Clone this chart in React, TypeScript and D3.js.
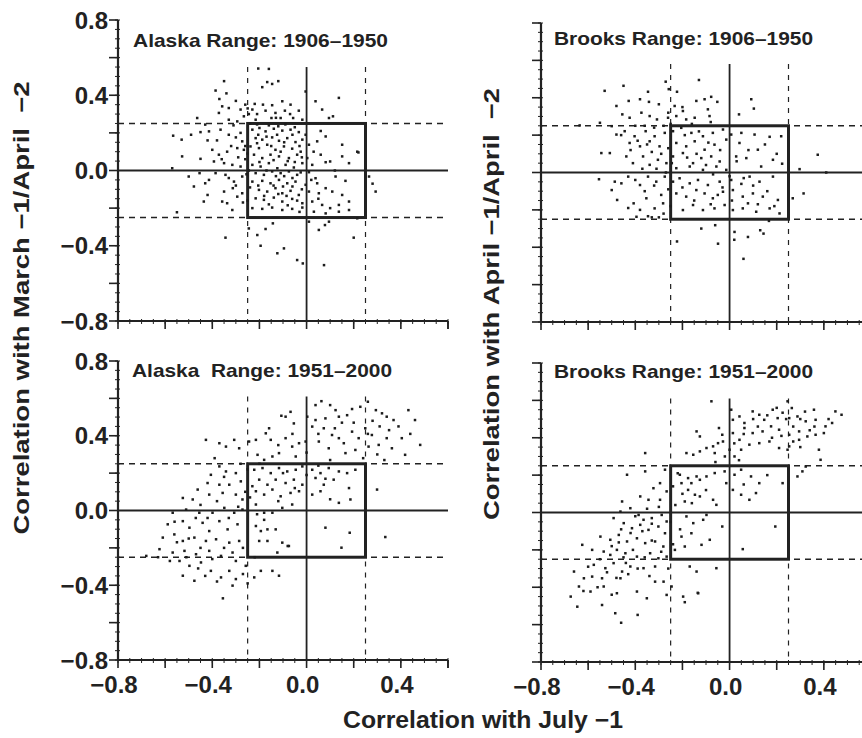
import * as d3 from 'd3';

// correlations: [July -1, spring] pairs
const alaskaEarly: [number, number][] = [
  [-0.205, 0.542], [-0.16, 0.54], [-0.35, 0.475], [-0.167, 0.47], [-0.146, 0.46], [-0.12, 0.475],
  [-0.386, 0.425], [-0.188, 0.443], [-0.004, 0.42], [-0.37, 0.38], [-0.34, 0.41], [-0.3, 0.37],
  [-0.26, 0.35], [-0.22, 0.354], [-0.185, 0.35], [-0.146, 0.347], [-0.103, 0.368], [-0.068, 0.35],
  [0.038, 0.368], [0.066, 0.324], [0.137, 0.386], [-0.358, 0.341], [-0.33, 0.332], [-0.28, 0.324],
  [-0.23, 0.324], [-0.174, 0.318], [-0.132, 0.306], [-0.092, 0.318], [-0.033, 0.318], [-0.372, 0.306],
  [-0.266, 0.288], [-0.245, 0.3], [-0.149, 0.279], [-0.11, 0.279], [-0.057, 0.279], [0.095, 0.279],
  [0.112, 0.288], [-0.464, 0.279], [-0.43, 0.244], [-0.33, 0.27], [-0.294, 0.261], [-0.216, 0.27],
  [-0.018, 0.27],
  [-0.566, 0.185], [-0.53, 0.164], [-0.49, 0.19], [-0.45, 0.204], [-0.414, 0.208], [-0.365, 0.217],
  [-0.33, 0.19], [-0.3, 0.176], [-0.273, 0.155], [-0.4, 0.11], [-0.372, 0.084], [-0.337, 0.1],
  [-0.294, 0.119], [-0.266, 0.11], [-0.528, 0.075], [-0.45, 0.062], [-0.393, 0.048], [-0.35, 0.039],
  [-0.315, 0.03], [-0.28, 0.021], [-0.57, 0.012], [-0.5, -0.032], [-0.454, -0.014], [-0.414, -0.05],
  [-0.386, -0.014], [-0.344, -0.023], [-0.308, -0.059], [-0.273, -0.032], [-0.478, -0.085], [-0.43, -0.068],
  [-0.35, -0.112], [-0.313, -0.094], [-0.42, -0.13], [-0.436, -0.165], [-0.358, -0.165], [-0.337, -0.174],
  [-0.294, -0.139], [-0.273, -0.121], [-0.55, -0.222], [-0.315, -0.21],
  [-0.23, 0.217], [-0.2, 0.226], [-0.174, 0.208], [-0.139, 0.222], [-0.103, 0.212], [-0.068, 0.217],
  [-0.033, 0.204], [-0.004, 0.19], [-0.216, 0.172], [-0.188, 0.164], [-0.146, 0.176], [-0.117, 0.158],
  [-0.082, 0.172], [-0.047, 0.151], [-0.018, 0.164], [-0.238, 0.128], [-0.202, 0.119], [-0.167, 0.137],
  [-0.132, 0.11], [-0.096, 0.128], [-0.061, 0.116], [-0.025, 0.1], [0.01, 0.137], [0.045, 0.155],
  [0.081, 0.181], [0.151, 0.137], [0.215, 0.1], [-0.223, 0.084], [-0.188, 0.066], [-0.153, 0.084],
  [-0.117, 0.075], [-0.075, 0.066], [-0.04, 0.084], [0.003, 0.066], [0.06, 0.084], [0.1, 0.048],
  [0.151, 0.075], [0.18, 0.039], [-0.23, 0.03], [-0.195, 0.021], [-0.16, 0.039], [-0.124, 0.012],
  [-0.089, 0.03], [-0.054, 0.016], [-0.018, 0.039], [0.024, 0.03], [0.081, 0.044], [-0.216, -0.014],
  [-0.181, -0.023], [-0.146, -0.005], [-0.11, -0.014], [-0.075, -0.005], [-0.04, -0.023], [0.01, -0.009],
  [0.038, -0.041], [0.123, -0.032], [0.165, -0.055], [-0.23, -0.059], [-0.188, -0.055], [-0.153, -0.068],
  [-0.117, -0.05], [-0.082, -0.068], [-0.047, -0.059], [-0.004, -0.076], [0.045, -0.068], [0.081, -0.094],
  [-0.202, -0.103], [-0.167, -0.112], [-0.132, -0.094], [-0.103, -0.121], [-0.068, -0.108], [-0.033, -0.13],
  [0.01, -0.112], [0.052, -0.121], [0.109, -0.112], [0.151, -0.13], [-0.216, -0.148], [-0.181, -0.156],
  [-0.139, -0.144], [-0.103, -0.165], [-0.061, -0.151], [-0.018, -0.174], [0.024, -0.165], [0.066, -0.183],
  [0.137, -0.183], [0.18, -0.165], [-0.23, -0.2], [-0.188, -0.204], [-0.146, -0.197], [-0.103, -0.21],
  [-0.061, -0.204], [-0.018, -0.197], [0.031, -0.219], [0.081, -0.228], [0.137, -0.219], [0.18, -0.21],
  [0.215, -0.254], [0.265, -0.032], [0.293, -0.112], [0.22, 0.096], [0.28, -0.07],
  [-0.344, -0.357], [-0.245, -0.308], [-0.209, -0.343], [-0.174, -0.311], [-0.143, -0.281], [-0.195, -0.4],
  [-0.124, -0.44], [-0.096, -0.414], [-0.04, -0.476], [-0.016, -0.494], [0.052, -0.316], [0.078, -0.29],
  [0.074, -0.503], [0.2, -0.357], [0.095, -0.272], [0.01, -0.272],
  [-0.24, 0.25], [-0.21, 0.245], [-0.16, 0.24], [-0.12, 0.235], [-0.09, 0.245], [-0.05, 0.23],
  [-0.26, 0.13], [-0.25, 0.09], [-0.26, 0.06], [-0.245, 0.0], [-0.255, -0.02], [-0.24, -0.09],
  [-0.25, -0.16], [-0.205, 0.19], [-0.17, 0.18], [-0.125, 0.19], [-0.095, 0.15], [-0.06, 0.19],
  [-0.03, 0.13], [-0.21, 0.145], [-0.15, 0.13], [-0.11, 0.1], [-0.08, 0.05], [-0.05, 0.045],
  [-0.02, 0.07], [-0.2, 0.045], [-0.14, 0.055], [-0.17, 0.0], [-0.13, -0.03], [-0.095, -0.03],
  [-0.06, -0.04], [-0.025, -0.01], [-0.205, -0.08], [-0.14, -0.08], [-0.1, -0.085], [-0.06, -0.085],
  [-0.02, -0.1], [-0.18, -0.135], [-0.12, -0.125], [-0.085, -0.135], [-0.04, -0.16], [-0.16, -0.18],
  [-0.08, -0.185], [-0.03, -0.22], [0.02, -0.05], [0.05, -0.15], [0.03, 0.1], [0.1, -0.2],
  [0.12, 0.0], [0.06, 0.21], [-0.31, 0.24], [-0.28, 0.2], [-0.32, 0.13], [-0.29, 0.07],
  [-0.36, 0.06], [-0.3, -0.08], [-0.33, -0.04], [-0.27, -0.17], [-0.38, 0.16], [-0.42, 0.16],
  [-0.21, 0.3], [-0.13, 0.28], [-0.07, 0.3], [-0.25, 0.33],
];

const brooksEarly: [number, number][] = [
  [-0.53, 0.437], [-0.45, 0.464], [-0.346, 0.432], [-0.271, 0.486], [-0.258, 0.446], [-0.223, 0.432],
  [-0.13, 0.495], [-0.48, 0.356], [-0.428, 0.383], [-0.38, 0.392], [-0.342, 0.378], [-0.3, 0.365],
  [-0.233, 0.356], [-0.198, 0.329], [-0.141, 0.383], [-0.106, 0.392], [-0.078, 0.405], [-0.052, 0.378],
  [-0.092, 0.338], [-0.085, 0.302], [0.092, 0.392], [0.103, 0.342], [0.04, 0.311], [-0.455, 0.311],
  [-0.424, 0.293], [-0.374, 0.32], [-0.339, 0.302], [-0.308, 0.284], [-0.261, 0.293], [-0.226, 0.302],
  [-0.184, 0.284], [-0.148, 0.293], [-0.55, 0.266], [-0.636, 0.252], [-0.5, 0.248],
  [-0.544, 0.104], [-0.508, 0.104], [-0.48, 0.203], [-0.445, 0.221], [-0.424, 0.158], [-0.403, 0.194],
  [-0.38, 0.14], [-0.356, 0.221], [-0.339, 0.167], [-0.318, 0.194], [-0.297, 0.14], [-0.275, 0.212],
  [-0.438, 0.086], [-0.41, 0.05], [-0.367, 0.086], [-0.339, 0.041], [-0.304, 0.068], [-0.268, 0.05],
  [-0.554, -0.036], [-0.487, -0.049], [-0.459, -0.058], [-0.43, -0.022], [-0.38, -0.067], [-0.346, -0.022],
  [-0.311, -0.049], [-0.275, -0.022], [-0.5, -0.094], [-0.477, -0.147], [-0.407, -0.165], [-0.38, -0.2],
  [-0.353, -0.138], [-0.318, -0.192], [-0.282, -0.165], [-0.395, -0.237], [-0.346, -0.234], [-0.28, -0.22],
  [-0.24, 0.221], [-0.205, 0.239], [-0.162, 0.212], [-0.113, 0.194], [-0.071, 0.212], [-0.028, 0.23],
  [0.007, 0.203], [0.05, 0.212], [0.106, 0.203], [0.17, 0.191], [0.219, 0.194], [-0.226, 0.158],
  [-0.184, 0.14], [-0.148, 0.167], [-0.106, 0.122], [-0.064, 0.149], [-0.014, 0.176], [0.042, 0.158],
  [0.12, 0.122], [-0.24, 0.086], [-0.198, 0.104], [-0.155, 0.05], [-0.12, 0.077], [-0.078, 0.086],
  [-0.042, 0.059], [0.028, 0.086], [0.071, 0.077], [0.134, 0.032], [0.184, 0.068], [0.223, 0.047],
  [-0.226, 0.023], [-0.169, 0.032], [-0.113, 0.014], [-0.056, 0.032], [-0.014, 0.014], [-0.24, -0.049],
  [-0.212, -0.031], [-0.169, -0.058], [-0.134, -0.04], [-0.092, -0.067], [-0.042, -0.049], [0.007, -0.04],
  [0.05, -0.061], [0.085, -0.022], [0.127, -0.049], [0.184, -0.022], [-0.226, -0.112], [-0.184, -0.129],
  [-0.141, -0.094], [-0.106, -0.112], [-0.071, -0.138], [-0.028, -0.103], [0.014, -0.094], [0.056, -0.129],
  [0.099, -0.112], [0.141, -0.129], [0.205, -0.147], [-0.198, -0.201], [-0.155, -0.174], [-0.113, -0.201],
  [-0.064, -0.192], [-0.021, -0.174], [0.014, -0.201], [0.056, -0.192], [0.113, -0.21], [0.17, -0.192],
  [0.212, -0.219], [0.078, -0.165],
  [0.268, -0.138], [0.314, -0.112], [0.297, 0.018], [0.374, 0.095], [0.41, 0.0],
  [-0.12, -0.3], [-0.061, -0.282], [0.021, -0.318], [0.078, -0.345], [0.13, -0.309], [0.144, -0.327],
  [-0.049, -0.381], [-0.223, -0.369], [0.059, -0.462], [0.167, -0.259], [0.02, -0.36],
  [-0.36, 0.25], [-0.32, 0.24], [-0.28, 0.25], [-0.25, 0.26], [-0.42, 0.12], [-0.39, 0.17],
  [-0.35, 0.15], [-0.33, 0.11], [-0.31, 0.02], [-0.29, 0.1], [-0.26, 0.13], [-0.27, 0.0],
  [-0.37, 0.02], [-0.4, -0.04], [-0.36, -0.1], [-0.32, -0.07], [-0.29, -0.12], [-0.26, -0.09],
  [-0.43, -0.19], [-0.33, -0.24], [-0.3, -0.24], [-0.25, -0.18], [-0.245, 0.05], [-0.19, 0.2],
  [-0.13, 0.22], [-0.09, 0.16], [-0.04, 0.12], [-0.18, 0.08], [-0.14, 0.1], [-0.1, 0.04],
  [-0.07, -0.01], [-0.03, -0.08], [-0.2, -0.08], [-0.15, -0.15], [-0.08, -0.17], [-0.05, -0.12],
  [0.0, -0.02], [0.01, -0.15], [0.03, 0.06], [0.06, -0.03], [0.1, -0.07], [0.12, -0.17],
  [0.16, -0.1], [0.19, -0.18], [0.08, 0.12], [0.15, 0.15], [0.2, 0.1], [-0.2, 0.35],
  [-0.16, 0.26], [-0.08, 0.27], [-0.26, 0.32], [-0.4, 0.25], [-0.46, 0.2],
];

const alaskaLate: [number, number][] = [
  [0.063, 0.585], [0.1, 0.564], [0.038, 0.564], [0.123, 0.537], [0.137, 0.502], [0.172, 0.51],
  [0.193, 0.543], [0.228, 0.555], [0.26, 0.582], [0.294, 0.537], [0.32, 0.52], [0.34, 0.502],
  [0.369, 0.484], [0.432, 0.537], [0.46, 0.484], [0.482, 0.351], [0.404, 0.387], [0.418, 0.298],
  [-0.068, 0.528], [-0.089, 0.502], [-0.054, 0.466], [-0.107, 0.507], [-0.159, 0.44], [-0.173, 0.413],
  [0.003, 0.502], [0.038, 0.484], [0.024, 0.449], [0.08, 0.493], [0.073, 0.44], [0.108, 0.404],
  [0.137, 0.387], [0.158, 0.36], [0.193, 0.422], [0.221, 0.387], [0.249, 0.44], [0.277, 0.404],
  [0.263, 0.342], [0.306, 0.351], [0.34, 0.387], [0.362, 0.333], [0.052, 0.369], [0.094, 0.333],
  [0.165, 0.307], [0.207, 0.324], [-0.089, 0.387], [-0.061, 0.342], [-0.032, 0.36], [-0.004, 0.369],
  [-0.117, 0.307], [-0.152, 0.378], [-0.215, 0.378], [-0.244, 0.369], [-0.307, 0.378], [-0.37, 0.36],
  [-0.342, 0.342], [-0.427, 0.378], [-0.208, 0.298], [-0.18, 0.271], [-0.145, 0.289], [-0.046, 0.289],
  [-0.39, 0.28], [-0.286, 0.333],
  [-0.37, 0.236], [-0.406, 0.191], [-0.342, 0.209], [-0.3, 0.2], [-0.42, 0.147], [-0.37, 0.138],
  [-0.328, 0.138], [-0.279, 0.156], [-0.462, 0.112], [-0.525, 0.067], [-0.483, 0.059], [-0.413, 0.085],
  [-0.356, 0.094], [-0.3, 0.085], [-0.272, 0.059], [-0.568, -0.012], [-0.511, 0.005], [-0.455, -0.012],
  [-0.399, -0.012], [-0.349, 0.014], [-0.307, -0.012], [-0.272, 0.005], [-0.589, -0.074], [-0.525, -0.057],
  [-0.497, -0.092], [-0.441, -0.066], [-0.413, -0.11], [-0.37, -0.057], [-0.335, -0.101], [-0.293, -0.074],
  [-0.61, -0.145], [-0.561, -0.128], [-0.525, -0.163], [-0.476, -0.145], [-0.427, -0.163], [-0.384, -0.154],
  [-0.328, -0.172], [-0.286, -0.163], [-0.624, -0.207], [-0.68, -0.243], [-0.568, -0.225], [-0.518, -0.216],
  [-0.469, -0.234], [-0.413, -0.216], [-0.363, -0.243], [-0.314, -0.225], [-0.539, -0.27], [-0.497, -0.296],
  [-0.448, -0.278], [-0.525, -0.349], [-0.476, -0.376], [-0.406, -0.323], [-0.363, -0.358], [-0.328, -0.323],
  [-0.3, -0.367], [-0.314, -0.402], [-0.258, -0.296], [-0.222, -0.358], [-0.194, -0.323], [-0.117, -0.349],
  [-0.145, -0.323], [-0.355, -0.47],
  [-0.222, 0.218], [-0.187, 0.227], [-0.152, 0.2], [-0.117, 0.227], [-0.082, 0.209], [-0.046, 0.218],
  [-0.018, 0.236], [0.024, 0.218], [0.059, 0.2], [0.094, 0.227], [0.137, 0.209], [0.172, 0.2],
  [0.207, 0.218], [-0.201, 0.165], [-0.166, 0.138], [-0.131, 0.165], [-0.089, 0.147], [-0.054, 0.165],
  [-0.018, 0.138], [0.038, 0.174], [0.073, 0.138], [0.115, 0.165], [-0.215, 0.103], [-0.18, 0.085],
  [-0.145, 0.112], [-0.11, 0.076], [-0.068, 0.094], [-0.032, 0.103], [0.024, 0.085], [0.059, 0.103],
  [0.137, 0.041], [0.186, 0.059], [0.299, 0.112], [-0.215, 0.032], [-0.18, -0.012], [-0.145, -0.012],
  [-0.103, 0.014], [-0.061, 0.032], [-0.215, -0.083], [-0.194, -0.11], [-0.166, -0.101], [-0.131, -0.101],
  [-0.201, -0.163], [-0.166, -0.163], [-0.103, -0.172], [-0.075, -0.19], [-0.124, -0.225], [0.08, -0.092],
  [0.183, -0.119], [0.148, -0.199], [0.334, -0.142],
  [0.15, 0.47], [0.2, 0.47], [0.28, 0.48], [0.31, 0.45], [0.35, 0.43], [0.26, 0.41],
  [0.12, 0.44], [0.05, 0.41], [0.3, 0.3], [0.33, 0.27], [0.24, 0.28], [0.1, 0.27],
  [0.0, 0.31], [-0.06, 0.41], [-0.12, 0.35], [0.39, 0.45], [0.44, 0.41], [-0.2, 0.25],
  [-0.25, 0.22], [-0.28, 0.25], [-0.23, 0.13], [-0.24, 0.07], [-0.1, 0.2], [0.0, 0.19],
  [0.05, 0.24], [0.08, 0.17], [-0.05, 0.12], [-0.12, 0.05], [-0.35, 0.18], [-0.38, 0.05],
  [-0.45, 0.03], [-0.33, -0.04], [-0.42, -0.04], [-0.47, -0.04], [-0.5, -0.15], [-0.45, -0.2],
  [-0.4, -0.26], [-0.35, -0.2], [-0.3, -0.27], [-0.27, -0.2], [-0.46, -0.31], [-0.51, -0.25],
  [-0.55, -0.17], [-0.58, -0.27], [-0.43, -0.35], [-0.38, -0.38], [-0.27, -0.34], [-0.25, -0.39],
  [-0.22, -0.25], [-0.18, -0.05], [-0.21, -0.02], [0.1, 0.06], [0.18, 0.12], [-0.08, -0.19],
  [-0.63, -0.25], [-0.56, -0.06], [-0.26, 0.1], [-0.29, 0.02],
];

const brooksLate: [number, number][] = [
  [-0.077, 0.595], [0.007, 0.55], [0.042, 0.514], [0.014, 0.496], [0.063, 0.479], [0.098, 0.541],
  [0.126, 0.523], [0.147, 0.496], [0.183, 0.55], [0.204, 0.505], [0.225, 0.534], [0.246, 0.595],
  [0.264, 0.559], [0.253, 0.505], [0.288, 0.514], [0.323, 0.488], [0.358, 0.55], [0.365, 0.496],
  [0.407, 0.461], [0.449, 0.541], [0.475, 0.523], [0.435, 0.479], [0.4, 0.425], [0.365, 0.416],
  [0.33, 0.407], [0.295, 0.434], [0.253, 0.416], [0.21, 0.443], [0.176, 0.461], [0.14, 0.434],
  [0.098, 0.425], [0.063, 0.452], [0.042, 0.389], [0.014, 0.425], [0.084, 0.363], [0.126, 0.371],
  [0.169, 0.38], [0.21, 0.345], [0.253, 0.354], [0.246, 0.336], [0.295, 0.389], [0.379, 0.336],
  [0.386, 0.282], [0.288, 0.193], [0.309, 0.22], [0.323, 0.246],
  [-0.14, 0.434], [-0.126, 0.407], [-0.045, 0.452], [-0.031, 0.416], [-0.049, 0.371], [-0.07, 0.354],
  [-0.063, 0.318], [-0.028, 0.38], [-0.098, 0.345], [-0.126, 0.327], [-0.154, 0.309], [-0.183, 0.318],
  [0.0, 0.336], [0.021, 0.3], [0.049, 0.336], [-0.358, 0.318], [-0.435, 0.202], [-0.358, 0.22],
  [-0.274, 0.229],
  [-0.323, 0.13], [-0.295, 0.157], [-0.267, 0.113], [-0.379, 0.086], [-0.344, 0.068], [-0.295, 0.068],
  [-0.456, 0.059], [-0.421, 0.023], [-0.463, 0.005], [-0.386, -0.013], [-0.365, -0.039], [-0.33, -0.03],
  [-0.288, -0.013], [-0.267, -0.048], [-0.492, -0.03], [-0.449, -0.057], [-0.414, -0.084], [-0.379, -0.066],
  [-0.344, -0.093], [-0.302, -0.075], [-0.274, -0.111], [-0.548, -0.129], [-0.506, -0.146], [-0.47, -0.12],
  [-0.435, -0.155], [-0.393, -0.138], [-0.358, -0.164], [-0.316, -0.155], [-0.281, -0.182], [-0.625, -0.173],
  [-0.583, -0.2], [-0.534, -0.209], [-0.506, -0.227], [-0.478, -0.2], [-0.442, -0.218], [-0.393, -0.236],
  [-0.337, -0.218], [-0.302, -0.245], [-0.267, -0.236], [-0.576, -0.28], [-0.527, -0.298], [-0.492, -0.271],
  [-0.456, -0.316], [-0.421, -0.289], [-0.365, -0.298], [-0.316, -0.289], [-0.66, -0.316], [-0.618, -0.352],
  [-0.583, -0.343], [-0.541, -0.352], [-0.463, -0.352], [-0.639, -0.396], [-0.59, -0.423], [-0.534, -0.396],
  [-0.478, -0.432], [-0.393, -0.423], [-0.316, -0.37], [-0.674, -0.45], [-0.646, -0.504], [-0.541, -0.495],
  [-0.485, -0.539], [-0.39, -0.548], [-0.351, -0.459], [-0.267, -0.441], [-0.46, -0.59], [-0.19, -0.48],
  [-0.135, -0.43],
  [-0.211, 0.202], [-0.176, 0.184], [-0.14, 0.193], [-0.204, 0.157], [-0.162, 0.157], [-0.126, 0.175],
  [-0.176, 0.121], [-0.147, 0.095], [-0.19, 0.059], [-0.126, 0.086], [-0.07, 0.068], [-0.056, 0.041],
  [-0.098, 0.193], [-0.063, 0.211], [-0.021, 0.22], [0.021, 0.202], [0.049, 0.229], [0.091, 0.193],
  [-0.014, 0.157], [0.014, 0.121], [0.049, 0.095], [0.084, 0.068], [0.112, 0.104], [0.126, 0.157],
  [0.225, 0.157], [-0.183, -0.021], [-0.154, -0.057], [-0.112, -0.039], [-0.098, -0.013], [-0.031, -0.075],
  [-0.204, -0.129], [-0.162, -0.111], [-0.084, -0.146], [-0.232, -0.2], [-0.19, -0.182], [-0.119, -0.173],
  [0.056, -0.196], [0.194, -0.075],
  [-0.169, -0.289], [-0.14, -0.316], [-0.133, -0.432], [-0.197, -0.45], [-0.056, -0.298], [-0.246, -0.396],
  [0.1, 0.5], [0.16, 0.52], [0.2, 0.56], [0.24, 0.5], [0.27, 0.46], [0.3, 0.5],
  [0.32, 0.54], [0.34, 0.44], [0.22, 0.41], [0.18, 0.4], [0.12, 0.46], [0.06, 0.42],
  [0.27, 0.38], [0.3, 0.35], [0.36, 0.46], [0.42, 0.5], [0.02, 0.37], [-0.02, 0.3],
  [0.04, 0.28], [-0.06, 0.27], [-0.22, 0.21], [-0.24, 0.14], [-0.2, 0.1], [-0.23, 0.04],
  [-0.16, 0.05], [-0.25, -0.05], [-0.21, -0.09], [-0.24, -0.17], [-0.3, 0.03], [-0.35, 0.02],
  [-0.4, -0.02], [-0.33, -0.06], [-0.37, -0.1], [-0.42, -0.11], [-0.46, -0.09], [-0.5, -0.18],
  [-0.45, -0.24], [-0.41, -0.2], [-0.36, -0.24], [-0.33, -0.15], [-0.29, -0.21], [-0.55, -0.25],
  [-0.6, -0.29], [-0.52, -0.32], [-0.48, -0.35], [-0.43, -0.33], [-0.39, -0.3], [-0.34, -0.34],
  [-0.56, -0.4], [-0.5, -0.44], [-0.62, -0.42], [-0.44, -0.27], [-0.47, -0.16], [-0.26, -0.3],
  [-0.28, -0.37], [0.06, 0.15], [0.16, 0.2], [-0.1, 0.12],
];

const titles = [
  'Alaska Range: 1906–1950',
  'Brooks Range: 1906–1950',
  'Alaska  Range: 1951–2000',
  'Brooks Range: 1951–2000',
];
const xTickValues = [-0.8, -0.4, 0.0, 0.4];
const yTickValues = [0.8, 0.4, 0.0, -0.4, -0.8];
const boxEdge = 0.25;
// top end of the vertical reference lines in each panel
const lineTops = [0.55, 0.58, 0.61, 0.61];

const W = 862;
const H = 738;
const ink = '#222';
const font = '"Liberation Sans", Arial, Helvetica, sans-serif';
const fmt = d3.format('.1f');

const panels = [
  { data: alaskaEarly, title: titles[0], left: 118, top: 20, bottom: 321, titleX: 133, titleY: 47, titleLen: 255, yLabels: true, xLabels: false, lineTop: lineTops[0] },
  { data: brooksEarly, title: titles[1], left: 541, top: 23, bottom: 322, titleX: 554, titleY: 45, titleLen: 259, yLabels: false, xLabels: false, lineTop: lineTops[1] },
  { data: alaskaLate, title: titles[2], left: 118, top: 361, bottom: 660, titleX: 132, titleY: 377, titleLen: 260, yLabels: true, xLabels: true, lineTop: lineTops[2] },
  { data: brooksLate, title: titles[3], left: 541, top: 363, bottom: 662, titleX: 554, titleY: 378, titleLen: 259, yLabels: false, xLabels: true, lineTop: lineTops[3] },
];

type PanelSpec = (typeof panels)[number];

function Panel({ p }: { p: PanelSpec }) {
  const x = d3.scaleLinear().domain([-0.8, 0.6]).range([p.left, p.left + 330]);
  const y = d3.scaleLinear().domain([-0.8, 0.8]).range([p.bottom, p.top]);

  const minorX = d3.range(-16, 13).map(i => i * 0.05);
  const majorX = d3.range(-4, 4).map(i => i * 0.2);
  const minorY = d3.range(-16, 17).map(i => i * 0.05);
  const majorY = d3.range(-4, 5).map(i => i * 0.2);

  const [xMin, xMax] = x.domain();

  return (
    <g>
      {/* reference lines */}
      <line x1={x(xMin)} x2={x(xMax)} y1={y(0)} y2={y(0)} stroke={ink} strokeWidth={1.8} />
      <line x1={x(0)} x2={x(0)} y1={y(p.lineTop)} y2={y(-0.8)} stroke={ink} strokeWidth={1.8} />
      {[-boxEdge, boxEdge].map(v => (
        <line key={'h' + v} x1={x(xMin)} x2={x(xMax)} y1={y(v)} y2={y(v)}
          stroke={ink} strokeWidth={1.4} strokeDasharray="6,5" />
      ))}
      {[-boxEdge, boxEdge].map(v => (
        <line key={'v' + v} x1={x(v)} x2={x(v)} y1={y(p.lineTop)} y2={y(-0.8)}
          stroke={ink} strokeWidth={1.2} strokeDasharray="5,6" />
      ))}
      <rect x={x(-boxEdge)} y={y(boxEdge)} width={x(boxEdge) - x(-boxEdge)} height={y(-boxEdge) - y(boxEdge)}
        fill="none" stroke={ink} strokeWidth={3} />

      {/* points */}
      {p.data.map((d, i) => (
        <rect key={i} x={x(d[0]) - 1.25} y={y(d[1]) - 1.25} width={2.5} height={2.5} fill="#1c1c1c" />
      ))}

      {/* axes */}
      <line x1={x(xMin)} x2={x(xMax)} y1={y(-0.8)} y2={y(-0.8)} stroke={ink} strokeWidth={2.2} />
      <line x1={x(xMin)} x2={x(xMin)} y1={y(0.8)} y2={y(-0.8)} stroke={ink} strokeWidth={2.2} />
      {minorX.map((v, i) => (
        <line key={'mx' + i} x1={x(v)} x2={x(v)} y1={y(-0.8) - 2} y2={y(-0.8) + 3} stroke={ink} strokeWidth={1} />
      ))}
      {majorX.map((v, i) => (
        <line key={'Mx' + i} x1={x(v)} x2={x(v)} y1={y(-0.8)} y2={y(-0.8) + 8} stroke={ink} strokeWidth={1.6} />
      ))}
      <line x1={x(xMax)} x2={x(xMax)} y1={y(-0.8)} y2={y(-0.8) + 8} stroke={ink} strokeWidth={1.6} />
      {minorY.map((v, i) => (
        <line key={'my' + i} x1={x(xMin) - 3} x2={x(xMin) + 2} y1={y(v)} y2={y(v)} stroke={ink} strokeWidth={1} />
      ))}
      {majorY.map((v, i) => (
        <line key={'My' + i} x1={x(xMin) - 9} x2={x(xMin)} y1={y(v)} y2={y(v)} stroke={ink} strokeWidth={1.6} />
      ))}

      {p.yLabels && yTickValues.map(v => (
        <text key={'yl' + v} x={x(xMin) - 10} y={y(v)} dy="0.36em" textAnchor="end"
          fontFamily={font} fontWeight="bold" fontSize={24} fill={ink}>{fmt(v)}</text>
      ))}
      {p.xLabels && xTickValues.map(v => (
        <text key={'xl' + v} x={x(v) - 4} y={y(-0.8) + 33} textAnchor="middle"
          fontFamily={font} fontWeight="bold" fontSize={24} fill={ink}>{fmt(v)}</text>
      ))}

      <text x={p.titleX} y={p.titleY} fontFamily={font} fontWeight="bold" fontSize={19} fill={ink}
        textLength={p.titleLen} lengthAdjust="spacingAndGlyphs" style={{ whiteSpace: 'pre' }}>{p.title}</text>
    </g>
  );
}

export default function App() {
  return (
    <svg width={W} height={H} viewBox={`0 0 ${W} ${H}`}
      style={{ position: 'absolute', left: 0, top: 0, background: '#fff' }}>
      <rect width={W} height={H} fill="#fff" />
      {panels.map((p, i) => <Panel key={i} p={p} />)}

      <text transform="translate(29,308) rotate(-90)" textAnchor="middle" fontFamily={font}
        fontWeight="bold" fontSize={22} fill={ink} textLength={453} lengthAdjust="spacingAndGlyphs"
        style={{ whiteSpace: 'pre' }}>{'Correlation with March −1/April  −2'}</text>
      <text transform="translate(499,304) rotate(-90)" textAnchor="middle" fontFamily={font}
        fontWeight="bold" fontSize={22} fill={ink} textLength={432} lengthAdjust="spacingAndGlyphs"
        style={{ whiteSpace: 'pre' }}>{'Correlation with April −1/April  −2'}</text>
      <text x={483} y={728} textAnchor="middle" fontFamily={font} fontWeight="bold" fontSize={23}
        fill={ink} textLength={280} lengthAdjust="spacingAndGlyphs">{'Correlation with July −1'}</text>
    </svg>
  );
}
